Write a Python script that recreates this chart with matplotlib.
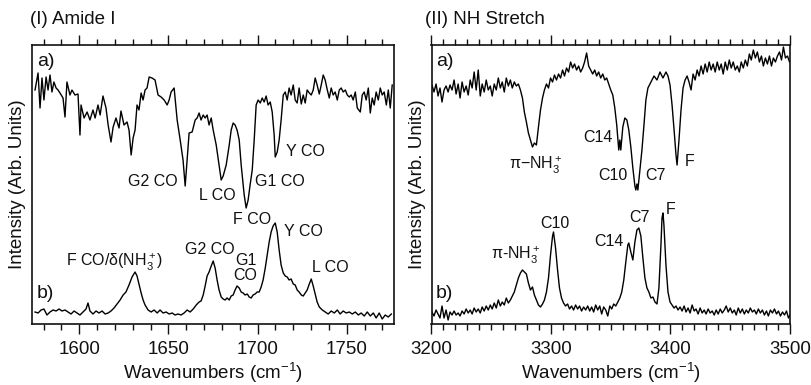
import matplotlib
matplotlib.use('Agg')
import matplotlib.pyplot as plt
from matplotlib.ticker import MultipleLocator

plt.rcParams['font.family'] = ['Liberation Sans', 'DejaVu Sans']
plt.rcParams['mathtext.fontset'] = 'custom'
plt.rcParams['mathtext.rm'] = 'Liberation Sans'
plt.rcParams['mathtext.it'] = 'Liberation Sans:italic'

# (I) Amide I, trace a (upper, dips)
amide_a_x = [1575.2, 1576.9, 1578.0, 1579.1, 1580.2, 1581.4, 1582.5, 1583.6, 1584.7, 1585.8,
             1587.0, 1588.1, 1589.2, 1590.9, 1592.0, 1593.1, 1594.8, 1595.9, 1597.6, 1599.3,
             1600.4, 1601.0, 1602.7, 1604.4, 1606.0, 1607.7, 1608.9, 1610.5, 1611.7, 1613.3,
             1615.0, 1616.2, 1617.8, 1619.0, 1620.6, 1622.3, 1623.4, 1625.1, 1626.8, 1627.9,
             1629.1, 1630.2, 1631.3, 1632.4, 1633.5, 1634.7, 1635.8, 1636.9, 1638.0, 1639.2,
             1640.8, 1642.5, 1644.2, 1645.9, 1647.6, 1649.3, 1650.4, 1651.5, 1653.2, 1654.9,
             1656.6, 1658.2, 1659.4, 1660.5, 1661.6, 1663.3, 1665.0, 1666.1, 1667.2, 1668.3,
             1669.5, 1670.6, 1671.7, 1672.8, 1674.0, 1675.1, 1676.8, 1678.4, 1679.6, 1680.7,
             1682.4, 1684.1, 1685.2, 1686.3, 1687.4, 1688.5, 1689.7, 1690.8, 1692.5, 1693.6,
             1694.7, 1695.8, 1697.0, 1698.1, 1699.2, 1700.3, 1701.5, 1702.6, 1703.7, 1704.8,
             1705.9, 1707.1, 1708.2, 1709.3, 1709.9, 1711.0, 1712.1, 1713.2, 1714.4, 1715.5,
             1716.6, 1717.7, 1718.8, 1720.0, 1721.1, 1722.2, 1723.3, 1724.5, 1725.6, 1726.7,
             1727.8, 1729.0, 1730.1, 1731.2, 1732.3, 1733.4, 1734.6, 1735.7, 1736.8, 1737.9,
             1739.1, 1740.2, 1741.3, 1742.4, 1743.5, 1744.7, 1745.8, 1746.9, 1748.0, 1749.2,
             1750.3, 1751.4, 1752.5, 1753.6, 1754.8, 1755.9, 1757.6, 1758.7, 1759.8, 1760.9,
             1762.1, 1763.2, 1764.3, 1765.4, 1766.5, 1767.7, 1768.8, 1769.9, 1771.0, 1772.2,
             1773.3, 1774.4, 1775.5]
amide_a_y = [234, 251, 216, 246, 224, 247, 234, 249, 232, 242,
             236, 234, 231, 226, 207, 242, 229, 234, 229, 230,
             189, 219, 206, 212, 204, 214, 206, 219, 209, 228,
             216, 199, 182, 197, 206, 196, 213, 199, 202, 194,
             169, 186, 194, 219, 214, 231, 224, 234, 236, 247,
             246, 244, 229, 227, 224, 219, 224, 232, 236, 204,
             184, 164, 138, 164, 191, 192, 204, 206, 211, 204,
             209, 206, 209, 199, 206, 194, 179, 159, 144, 148,
             159, 179, 194, 201, 199, 194, 184, 159, 129, 116,
             124, 139, 154, 184, 219, 224, 221, 226, 222, 228,
             219, 222, 212, 189, 167, 172, 184, 204, 229, 232,
             224, 236, 229, 239, 224, 221, 236, 220, 229, 221,
             234, 231, 229, 234, 246, 239, 230, 239, 249, 244,
             234, 226, 236, 229, 232, 224, 234, 236, 232, 234,
             229, 227, 229, 224, 232, 216, 212, 229, 232, 224,
             236, 211, 226, 219, 232, 224, 236, 229, 232, 219,
             234, 216, 239]

# (I) Amide I, trace b (lower, peaks)
amide_b_x = [1575.2, 1576.9, 1578.6, 1580.2, 1581.9, 1583.6, 1585.3, 1587.0, 1588.7, 1590.3,
             1592.0, 1593.7, 1595.4, 1597.1, 1598.8, 1600.4, 1602.1, 1603.8, 1604.9, 1606.0,
             1607.7, 1609.4, 1611.1, 1612.8, 1614.5, 1616.2, 1617.8, 1619.5, 1621.2, 1622.9,
             1624.6, 1626.2, 1627.9, 1629.6, 1631.3, 1632.4, 1633.5, 1634.7, 1635.8, 1636.9,
             1638.6, 1640.3, 1642.0, 1643.7, 1645.3, 1647.0, 1648.7, 1650.4, 1652.1, 1653.7,
             1655.4, 1657.1, 1658.8, 1660.5, 1662.2, 1663.9, 1665.6, 1667.2, 1668.3, 1669.5,
             1670.6, 1671.7, 1672.8, 1674.0, 1675.1, 1676.2, 1677.3, 1678.4, 1679.6, 1680.7,
             1681.8, 1682.9, 1684.1, 1685.2, 1686.3, 1687.4, 1688.5, 1689.7, 1690.8, 1691.9,
             1693.0, 1694.2, 1695.3, 1696.4, 1697.5, 1698.6, 1699.8, 1700.9, 1702.0, 1703.1,
             1704.3, 1705.4, 1706.5, 1707.6, 1708.7, 1709.9, 1711.0, 1712.1, 1713.2, 1714.4,
             1715.5, 1716.6, 1717.7, 1718.8, 1720.0, 1721.1, 1722.2, 1723.3, 1724.5, 1725.6,
             1726.7, 1727.8, 1729.0, 1730.1, 1731.2, 1732.3, 1733.4, 1734.6, 1736.3, 1737.9,
             1739.6, 1741.3, 1743.0, 1744.7, 1746.3, 1748.0, 1749.7, 1751.4, 1753.1, 1754.8,
             1756.5, 1758.1, 1759.8, 1761.5, 1763.2, 1764.9, 1766.5, 1768.2, 1769.9, 1771.6,
             1773.3, 1775.0]
amide_b_y = [12, 11, 14, 15, 9, 12, 14, 13, 15, 13,
             14, 12, 10, 13, 11, 9, 12, 15, 21, 13,
             10, 13, 11, 13, 10, 11, 13, 16, 20, 24,
             29, 32, 39, 47, 52, 48, 40, 31, 24, 19,
             14, 12, 14, 11, 14, 11, 12, 10, 11, 9,
             10, 9, 11, 14, 12, 15, 19, 22, 23, 29,
             38, 48, 52, 58, 63, 56, 44, 34, 27, 25,
             24, 26, 24, 28, 29, 34, 38, 36, 32, 31,
             29, 30, 27, 26, 29, 30, 32, 32, 37, 44,
             56, 69, 82, 92, 98, 101, 92, 74, 59, 51,
             48, 47, 44, 45, 40, 39, 34, 32, 29, 28,
             31, 34, 40, 45, 38, 30, 22, 17, 14, 12,
             10, 13, 11, 14, 10, 13, 11, 12, 10, 12,
             9, 11, 8, 12, 8, 11, 6, 11, 5, 9,
             7, 10]

# (II) NH stretch, trace a (upper, dips)
nh_a_x = [3200.4, 3202.1, 3203.8, 3205.5, 3207.1, 3208.8, 3210.5, 3212.2, 3213.9, 3215.5,
          3217.2, 3218.9, 3220.6, 3222.3, 3223.9, 3225.6, 3227.3, 3229.0, 3230.7, 3232.4,
          3234.0, 3235.7, 3237.4, 3239.1, 3240.8, 3242.4, 3244.1, 3245.8, 3247.5, 3249.2,
          3250.8, 3252.5, 3254.2, 3255.9, 3257.6, 3259.2, 3260.9, 3262.6, 3264.3, 3266.0,
          3267.6, 3269.3, 3271.0, 3272.7, 3274.4, 3276.1, 3277.7, 3279.4, 3281.1, 3282.8,
          3284.5, 3286.1, 3287.8, 3289.5, 3291.2, 3292.9, 3294.5, 3296.2, 3297.9, 3299.6,
          3301.3, 3302.9, 3304.6, 3306.3, 3308.0, 3309.7, 3311.3, 3313.0, 3314.7, 3316.4,
          3318.1, 3319.7, 3321.4, 3323.1, 3324.8, 3326.5, 3328.1, 3329.8, 3331.5, 3333.2,
          3334.9, 3336.6, 3338.2, 3339.9, 3341.6, 3343.3, 3345.0, 3346.6, 3348.3, 3350.0,
          3351.7, 3353.4, 3355.0, 3356.7, 3357.6, 3358.4, 3360.1, 3361.8, 3363.5, 3365.1,
          3366.8, 3368.5, 3370.2, 3371.0, 3371.9, 3372.7, 3374.4, 3376.1, 3377.8, 3379.4,
          3381.1, 3383.6, 3386.2, 3388.7, 3391.2, 3393.7, 3396.2, 3397.9, 3399.6, 3401.3,
          3403.0, 3404.6, 3405.5, 3407.1, 3408.8, 3410.5, 3412.2, 3413.9, 3415.5, 3417.2,
          3418.9, 3420.6, 3422.3, 3423.9, 3425.6, 3427.3, 3429.0, 3430.7, 3432.4, 3434.0,
          3435.7, 3437.4, 3439.1, 3440.8, 3442.4, 3444.1, 3445.8, 3447.5, 3449.2, 3450.8,
          3452.5, 3454.2, 3455.9, 3457.6, 3459.2, 3460.9, 3462.6, 3464.3, 3466.0, 3467.6,
          3469.3, 3471.0, 3472.7, 3474.4, 3476.1, 3477.7, 3479.4, 3481.1, 3482.8, 3484.5,
          3486.1, 3487.8, 3489.5, 3491.2, 3492.9, 3494.5, 3496.2, 3497.9, 3499.6]
nh_a_y = [239, 232, 240, 228, 236, 222, 234, 238, 232, 239,
          234, 244, 230, 240, 226, 242, 232, 238, 229, 244,
          236, 252, 234, 254, 228, 240, 232, 244, 234, 238,
          228, 240, 234, 246, 236, 242, 232, 246, 238, 244,
          236, 242, 238, 240, 234, 226, 212, 202, 191, 184,
          177, 181, 179, 197, 214, 226, 234, 240, 236, 246,
          242, 249, 244, 250, 246, 254, 248, 256, 252, 262,
          256, 260, 254, 258, 252, 256, 262, 271, 258, 254,
          250, 254, 248, 252, 246, 250, 244, 246, 240, 234,
          229, 216, 199, 174, 184, 174, 197, 206, 204, 194,
          177, 156, 138, 134, 140, 134, 154, 174, 199, 224,
          236, 242, 248, 244, 252, 246, 252, 248, 239, 219,
          194, 169, 159, 184, 214, 236, 244, 248, 242, 234,
          250, 244, 254, 248, 258, 250, 260, 252, 262, 254,
          260, 252, 262, 254, 260, 250, 262, 254, 264, 256,
          262, 254, 258, 252, 262, 256, 264, 258, 270, 264,
          274, 266, 272, 262, 268, 258, 266, 260, 268, 258,
          266, 262, 268, 272, 264, 277, 266, 268, 262]

# (II) NH stretch, trace b (lower, peaks)
nh_b_x = [3200.4, 3202.1, 3203.8, 3205.5, 3207.1, 3208.8, 3210.5, 3212.2, 3213.9, 3215.5,
          3217.2, 3218.9, 3220.6, 3222.3, 3223.9, 3225.6, 3227.3, 3229.0, 3230.7, 3232.4,
          3234.0, 3235.7, 3237.4, 3239.1, 3240.8, 3242.4, 3244.1, 3245.8, 3247.5, 3249.2,
          3250.8, 3252.5, 3254.2, 3255.9, 3257.6, 3259.2, 3260.9, 3262.6, 3264.3, 3266.0,
          3267.6, 3269.3, 3271.0, 3272.7, 3274.4, 3276.1, 3277.7, 3279.4, 3281.1, 3282.8,
          3284.5, 3286.1, 3287.8, 3289.5, 3291.2, 3292.9, 3294.5, 3296.2, 3297.9, 3299.6,
          3301.3, 3302.1, 3303.8, 3305.5, 3307.1, 3308.8, 3310.5, 3312.2, 3313.9, 3315.5,
          3317.2, 3318.9, 3320.6, 3322.3, 3323.9, 3325.6, 3327.3, 3329.0, 3330.7, 3332.4,
          3334.0, 3335.7, 3337.4, 3339.1, 3340.8, 3342.4, 3344.1, 3345.8, 3347.5, 3349.2,
          3350.8, 3352.5, 3354.2, 3355.9, 3357.6, 3359.2, 3360.9, 3362.6, 3364.3, 3365.1,
          3366.8, 3368.5, 3370.2, 3371.9, 3373.5, 3375.2, 3376.9, 3378.6, 3380.3, 3381.9,
          3383.6, 3385.3, 3387.0, 3388.7, 3390.3, 3392.0, 3392.9, 3393.7, 3394.5, 3396.2,
          3397.9, 3399.6, 3401.3, 3403.0, 3404.6, 3406.3, 3408.0, 3409.7, 3411.4, 3413.0,
          3414.7, 3416.4, 3418.1, 3419.8, 3421.4, 3423.1, 3424.8, 3426.5, 3428.2, 3429.8,
          3431.5, 3433.2, 3434.9, 3436.6, 3438.2, 3439.9, 3441.6, 3443.3, 3445.0, 3446.6,
          3448.3, 3450.0, 3451.7, 3453.4, 3455.0, 3456.7, 3458.4, 3460.1, 3461.8, 3463.4,
          3465.1, 3466.8, 3468.5, 3470.2, 3471.8, 3473.5, 3475.2, 3476.9, 3478.6, 3480.3,
          3481.9, 3483.6, 3485.3, 3487.0, 3488.7, 3490.3, 3492.0, 3493.7, 3495.4, 3497.1,
          3498.7, 3500.0]
nh_b_y = [12, 8, 14, 10, 6, 18, 6, 14, 4, 12,
          9, 13, 9, 11, 8, 13, 10, 15, 11, 14,
          10, 16, 12, 15, 11, 17, 13, 18, 14, 19,
          15, 21, 16, 24, 18, 22, 19, 26, 21, 24,
          28, 32, 39, 46, 51, 54, 52, 50, 41, 34,
          37, 29, 24, 19, 17, 20, 24, 32, 46, 69,
          88, 92, 76, 54, 36, 26, 21, 18, 20, 15,
          18, 14, 19, 15, 18, 13, 17, 14, 18, 13,
          17, 12, 19, 14, 18, 10, 17, 14, 8, 18,
          15, 20, 18, 22, 26, 32, 44, 62, 79, 81,
          72, 64, 82, 94, 96, 88, 66, 46, 36, 32,
          26, 27, 22, 20, 36, 79, 106, 111, 99, 59,
          32, 22, 19, 16, 18, 14, 17, 13, 18, 12,
          16, 11, 19, 13, 15, 10, 16, 11, 14, 10,
          15, 11, 13, 9, 14, 10, 15, 11, 14, 18,
          12, 16, 11, 14, 9, 16, 11, 15, 10, 14,
          11, 16, 12, 14, 10, 15, 11, 14, 9, 13,
          8, 14, 11, 15, 10, 13, 8, 12, 9, 13,
          6, 9]

amide_labels_a = ['G2 CO', 'L CO', 'G1 CO', 'Y CO', 'F CO']
amide_labels_b = ['F CO/\u03b4(NH$_3^+$)', 'G2 CO', 'G1\nCO', 'Y CO', 'L CO']
nh_labels_a = ['\u03c0\u2212NH$_3^+$', 'C14', 'C10', 'C7', 'F']
nh_labels_b = ['\u03c0-NH$_3^+$', 'C10', 'C14', 'C7', 'F']

# label anchor positions (wavenumber, intensity)
amide_pos_a = [(1641.4, 142), (1677.3, 129), (1712.7, 142), (1726.7, 172), (1697.0, 105)]
amide_pos_b = [(1620.1, 62), (1673.4, 74), (1693.3, 56), (1725.6, 93), (1740.7, 56)]
nh_pos_a = [(3287.0, 159), (3339.1, 186), (3351.7, 149), (3387.8, 149), (3416.4, 162)]
nh_pos_b = [(3270.2, 69), (3302.9, 101), (3348.3, 82), (3374.4, 107), (3400.5, 114)]

fig = plt.figure(figsize=(8.11, 3.85), dpi=100)
ax1 = fig.add_axes([32 / 811, 61 / 385, 362 / 811, 279 / 385])
ax2 = fig.add_axes([431.5 / 811, 61 / 385, 358.5 / 811, 279 / 385])

ink = '#111111'
big = 13.5
small = 11.5

for ax in (ax1, ax2):
    ax.set_ylim(0, 279)
    ax.set_yticks([])
    ax.tick_params(axis='x', which='both', top=True, direction='out', colors=ink,
                   labelsize=big, width=1)
    ax.tick_params(axis='x', which='major', length=7, pad=5)
    ax.tick_params(axis='x', which='minor', length=4)
    ax.xaxis.set_minor_locator(MultipleLocator(10))
    for s in ax.spines.values():
        s.set_linewidth(1.2)
        s.set_color(ink)
    ax.set_xlabel('Wavenumbers (cm$^{-1}$)', fontsize=big, color=ink, labelpad=2)
    ax.set_ylabel('Intensity (Arb. Units)', fontsize=big, color=ink, labelpad=4)
    ax.text(0.013, 0.94, 'a)', transform=ax.transAxes, fontsize=14, color=ink,
            ha='left', va='center')
    ax.text(0.013, 0.11, 'b)', transform=ax.transAxes, fontsize=14, color=ink,
            ha='left', va='center')

ax1.plot(amide_a_x, amide_a_y, color='black', lw=1.0)
ax1.plot(amide_b_x, amide_b_y, color='black', lw=1.0)
ax1.set_xlim(1573.5, 1776.5)
ax1.xaxis.set_major_locator(MultipleLocator(50))
for t, (x, y) in zip(amide_labels_a + amide_labels_b, amide_pos_a + amide_pos_b):
    ax1.text(x, y, t, fontsize=small, color=ink, ha='center', va='center', linespacing=1.0)

ax2.plot(nh_a_x, nh_a_y, color='black', lw=1.0)
ax2.plot(nh_b_x, nh_b_y, color='black', lw=1.0)
ax2.set_xlim(3200, 3500)
ax2.xaxis.set_major_locator(MultipleLocator(100))
for t, (x, y) in zip(nh_labels_a + nh_labels_b, nh_pos_a + nh_pos_b):
    ax2.text(x, y, t, fontsize=small, color=ink, ha='center', va='center')

fig.text(30 / 811, 1 - 20 / 385, '(I) Amide I', fontsize=big, color=ink, ha='left', va='center')
fig.text(425 / 811, 1 - 20 / 385, '(II) NH Stretch', fontsize=big, color=ink, ha='left', va='center')

fig.savefig('out.png', dpi=100)
